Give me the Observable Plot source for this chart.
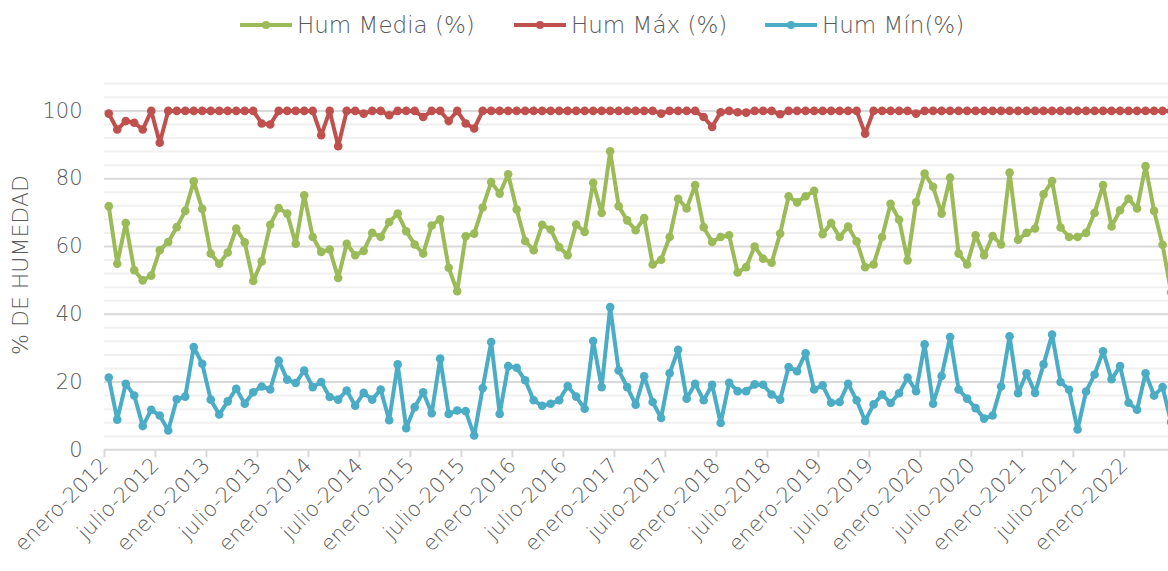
<!DOCTYPE html>
<html>
<head>
<meta charset="utf-8">
<script src="https://cdn.jsdelivr.net/npm/d3@7"></script>
<script src="https://cdn.jsdelivr.net/npm/@observablehq/plot@0.6"></script>
<style>
  body { margin: 0; background: #ffffff; width: 1168px; height: 571px; overflow: hidden; position: relative; font-family: "DejaVu Sans", sans-serif; font-weight: 300; color: #595959; }
  #legend { position: absolute; left: 0; top: 0; width: 1168px; height: 50px; z-index: 2; }
  .item { position: absolute; top: 10px; height: 30px; display: flex; align-items: center; font-size: 23px; color: #595959; white-space: nowrap; }
  .item svg { margin-right: 5px; }
  #chart { position: absolute; left: 0; top: 50px; z-index: 1; }
  #ytitle { position: absolute; z-index: 3; left: 20px; top: 265px; transform: translate(-50%, -50%) rotate(-90deg); font-size: 22px; color: #595959; white-space: nowrap; }
</style>
</head>
<body>
<div id="legend"></div>
<div id="ytitle">% DE HUMEDAD</div>
<div id="chart"></div>
<script>
const seriesNames = ["Hum Media (%)", "Hum Máx (%)", "Hum Mín(%)"];
const seriesColors = ["#9BBB59", "#C0504D", "#4BACC6"];

const tickLabels = ["enero-2012","julio-2012","enero-2013","julio-2013","enero-2014","julio-2014",
  "enero-2015","julio-2015","enero-2016","julio-2016","enero-2017","julio-2017","enero-2018",
  "julio-2018","enero-2019","julio-2019","enero-2020","julio-2020","enero-2021","julio-2021","enero-2022"];

const humMedia = [71.9,54.9,66.9,53.0,50.0,51.4,58.9,61.3,65.7,70.5,79.2,71.1,
  57.9,54.9,58.2,65.3,61.2,49.8,55.6,66.4,71.3,69.7,60.8,75.1,
  62.8,58.4,59.1,50.7,60.8,57.4,58.7,64.0,62.8,67.2,69.7,64.5,
  60.6,57.9,66.2,68.0,53.7,46.8,63.0,63.8,71.5,79.0,75.6,81.3,
  70.9,61.6,58.9,66.4,65.0,59.8,57.4,66.5,64.3,78.8,69.9,88.1,
  71.9,67.7,64.8,68.4,54.7,56.1,62.8,74.1,71.2,78.1,65.7,61.3,
  62.8,63.3,52.3,53.9,60.0,56.4,55.2,63.8,74.8,73.0,74.8,76.4,
  63.6,66.9,62.8,65.9,61.5,53.9,54.7,62.8,72.6,67.9,55.9,73.0,
  81.5,77.6,69.7,80.3,57.9,54.7,63.3,57.4,63.1,60.6,81.8,62.0,
  64.0,65.3,75.4,79.3,65.6,62.8,62.8,64.0,69.9,78.1,65.9,70.7,
  74.1,71.2,83.7,70.5,60.5,46.5];

const humMax = [99.2,94.5,97.0,96.5,94.5,100,90.6,100,100,100,100,100,
  100,100,100,100,100,100,96.3,96.0,100,100,100,100,
  100,92.8,100,89.6,100,100,99.2,100,100,98.7,100,100,
  100,98.2,100,100,97.0,100,96.3,94.8,100,100,100,100,
  100,100,100,100,100,100,100,100,100,100,100,100,
  100,100,100,100,100,99.2,100,100,100,100,98.2,95.3,
  99.6,100,99.6,99.5,100,100,100,99.0,100,100,100,100,
  100,100,100,100,100,93.3,100,100,100,100,100,99.2,
  100,100,100,100,100,100,100,100,100,100,100,100,
  100,100,100,100,100,100,100,100,100,100,100,100,
  100,100,100,100,100,100];

const humMin = [21.3,8.9,19.5,16.0,7.0,11.8,10.1,5.7,14.9,15.7,30.3,25.4,
  14.8,10.4,14.3,18.0,13.6,17.0,18.7,17.8,26.3,20.7,19.7,23.4,
  18.5,20.0,15.6,14.8,17.5,13.0,16.8,14.8,17.8,8.7,25.2,6.4,
  12.6,17.0,10.8,26.9,10.6,11.6,11.4,4.2,18.2,31.8,10.6,24.7,
  24.2,20.5,14.6,13.0,13.6,14.6,18.8,15.7,12.1,32.1,18.5,42.1,
  23.4,18.5,13.3,21.7,14.1,9.4,22.6,29.5,15.1,19.5,14.6,19.2,
  7.9,19.8,17.3,17.3,19.3,19.2,16.3,14.8,24.4,23.2,28.5,17.8,
  19.0,13.9,14.1,19.5,14.6,8.5,13.4,16.3,13.8,16.7,21.3,17.3,
  31.1,13.6,21.8,33.3,17.8,15.1,12.3,9.2,10.1,18.7,33.5,16.7,
  22.6,16.8,25.2,34.0,20.0,17.7,6.0,17.2,22.2,29.1,20.8,24.7,
  13.9,11.8,22.6,16.0,18.5,8.2];

const yMajor = [0, 20, 40, 60, 80, 100];
const yMinor = d3.range(4, 109, 4).filter(v => v % 20 !== 0);

const allSeries = [humMedia, humMax, humMin];
const tables = allSeries.map((arr, k) => arr.map((v, i) => ({i, v, s: seriesNames[k]})));

// legend
const legendLeft = [240, 514, 765];
const legend = document.getElementById("legend");
seriesNames.forEach((name, k) => {
  const div = document.createElement("div");
  div.className = "item";
  div.style.left = legendLeft[k] + "px";
  div.innerHTML = `<svg width="52" height="12"><line x1="0" x2="52" y1="6" y2="6" stroke="${seriesColors[k]}" stroke-width="4"/><circle cx="26" cy="6" r="4" fill="${seriesColors[k]}"/></svg><span>${name}</span>`;
  legend.appendChild(div);
});

const lineMarks = [];
tables.forEach((t, k) => {
  lineMarks.push(Plot.line(t, {x: d => d.i + 0.5, y: "v", stroke: seriesColors[k], strokeWidth: 4, clip: true}));
  lineMarks.push(Plot.dot(t, {x: d => d.i + 0.5, y: "v", fill: seriesColors[k], r: 4.3, clip: true}));
});

const chart = Plot.plot({
  width: 1168,
  height: 521,
  marginLeft: 104,
  marginRight: 0,
  marginTop: 33.3,
  marginBottom: 121.7,
  x: {type: "linear", domain: [0, 125.2]},
  y: {domain: [0, 108]},
  style: {fontFamily: "'DejaVu Sans', sans-serif", fontWeight: 300, color: "#595959", background: "#ffffff"},
  marks: [
    Plot.ruleY(yMinor, {stroke: "#f0f0f0", strokeWidth: 2}),
    Plot.ruleY(yMajor.filter(v => v > 0), {stroke: "#d9d9d9", strokeWidth: 2}),
    Plot.axisY({ticks: yMajor, tickSize: 0, tickPadding: 22, fontSize: 21, label: null, fill: "#595959"}),
    Plot.axisX({ticks: d3.range(0, 121, 6), tickSize: 8, tickPadding: 4, tickRotate: -45,
      tickFormat: d => tickLabels[d / 6], label: null, stroke: "#d9d9d9", strokeWidth: 2,
      fontSize: 21, fill: "#595959"}),
    Plot.ruleY([0], {stroke: "#d9d9d9", strokeWidth: 2}),
    ...lineMarks
  ]
});
document.getElementById("chart").appendChild(chart);
</script>
</body>
</html>
